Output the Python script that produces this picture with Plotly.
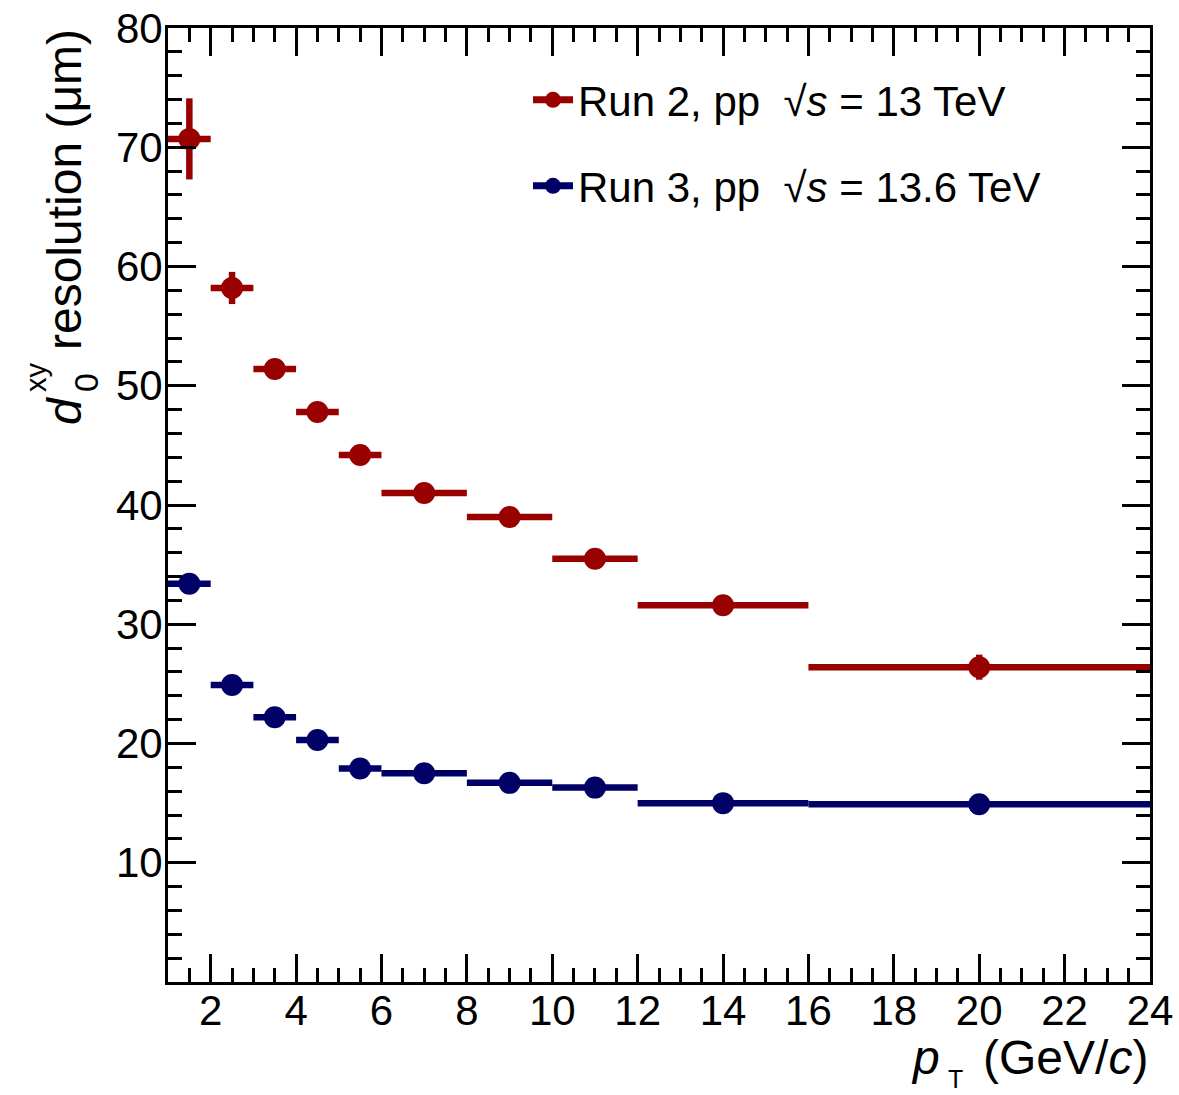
import plotly.graph_objects as go

# pT bin edges (GeV/c) shared by both measurements
bin_edges = [1, 2, 3, 4, 5, 6, 8, 10, 12, 16, 24]

# d0 (xy) resolution in micrometres, per pT bin
run2_res = [70.7, 58.2, 51.4, 47.8, 44.2, 41.0, 39.0, 35.5, 31.6, 26.4]
run2_err = [3.4, 1.35, 0.4, 0.4, 0.4, 0.4, 0.4, 0.5, 0.6, 1.05]
run3_res = [33.4, 24.9, 22.2, 20.3, 17.9, 17.5, 16.7, 16.3, 15.0, 14.9]
run3_err = [0.3, 0.3, 0.3, 0.3, 0.3, 0.3, 0.3, 0.3, 0.3, 0.3]

run2_label = "Run 2, pp  √<i>s</i> = 13 TeV"
run3_label = "Run 3, pp  √<i>s</i> = 13.6 TeV"

x_tick_vals = [2, 4, 6, 8, 10, 12, 14, 16, 18, 20, 22, 24]
y_tick_vals = [0, 10, 20, 30, 40, 50, 60, 70, 80]
y_tick_text = ["", "10", "20", "30", "40", "50", "60", "70", "80"]

RED = "#990000"
BLUE = "#000066"
FONT = "Liberation Sans, Arial, Helvetica, sans-serif"

centers = [(lo + hi) / 2 for lo, hi in zip(bin_edges[:-1], bin_edges[1:])]
half_widths = [(hi - lo) / 2 for lo, hi in zip(bin_edges[:-1], bin_edges[1:])]

fig = go.Figure()


def add_series(values, errors, color, label, legend_id):
    fig.add_trace(go.Scatter(
        x=centers, y=values, mode="markers",
        marker=dict(symbol="circle", size=22, color=color, line=dict(width=0)),
        error_x=dict(type="data", array=half_widths, width=0, thickness=6.5, color=color),
        error_y=dict(type="data", array=errors, width=0, thickness=6.5, color=color),
        showlegend=False, cliponaxis=True,
    ))
    # legend entry: line with marker, like a "lep" entry
    fig.add_trace(go.Scatter(
        x=[None], y=[None], mode="lines+markers", name=label,
        line=dict(color=color, width=7),
        marker=dict(symbol="circle", size=22, color=color),
        legend=legend_id, showlegend=True,
    ))


add_series(run2_res, run2_err, RED, run2_label, "legend")
add_series(run3_res, run3_err, BLUE, run3_label, "legend2")

W, H = 1179, 1095
L, R, T, B = 168, 29, 28, 113
pw, ph = W - L - R, H - T - B


def px(xp):
    return (xp - L) / pw


def py(yp):
    return (H - B - yp) / ph


axis_common = dict(
    showline=True, linecolor="black", linewidth=3, mirror="allticks",
    ticks="inside", ticklen=28, tickwidth=2.5, tickcolor="black",
    showgrid=False, zeroline=False,
    tickfont=dict(family=FONT, size=42, color="black"),
)

fig.update_xaxes(
    range=[1, 24], tickmode="array", tickvals=x_tick_vals,
    ticklabelstandoff=-10,
    minor=dict(tick0=1, dtick=0.5, ticks="inside", ticklen=14, tickwidth=2.5,
               tickcolor="black", showgrid=False),
    **axis_common,
)
fig.update_yaxes(
    range=[0, 80], tickmode="array", tickvals=y_tick_vals, ticktext=y_tick_text,
    ticklabelstandoff=-6,
    minor=dict(tick0=0, dtick=2, ticks="inside", ticklen=14, tickwidth=2.5,
               tickcolor="black", showgrid=False),
    **axis_common,
)

legend_common = dict(
    xanchor="left", yanchor="middle", bgcolor="rgba(0,0,0,0)",
    font=dict(family=FONT, size=42, color="black"), itemwidth=40,
)

annotations = [
    # y-axis title, built from pieces so the sub/superscripts stack
    dict(text="resolution (μm)", x=px(65), y=py(190), textangle=-90,
         font=dict(family=FONT, size=48, color="black")),
    dict(text="<i>d</i>", x=px(65), y=py(411), textangle=-90,
         font=dict(family=FONT, size=48, color="black")),
    dict(text="0", x=px(86), y=py(383), textangle=-90,
         font=dict(family=FONT, size=34, color="black")),
    dict(text="xy", x=px(36), y=py(377), textangle=-90,
         font=dict(family=FONT, size=29, color="black")),
    # x-axis title: p, subscript T, units
    dict(text="(GeV/<i>c</i>)", x=1.0, y=py(1057),
         xanchor="right", yanchor="middle",
         font=dict(family=FONT, size=48, color="black")),
    dict(text="<i>p</i>", x=px(925), y=py(1057),
         font=dict(family=FONT, size=48, color="black")),
    dict(text="T", x=px(955), y=py(1079), borderpad=0,
         font=dict(family=FONT, size=25, color="black")),
]
for a in annotations:
    a.setdefault("xanchor", "center")
    a.setdefault("yanchor", "middle")
    a.update(xref="paper", yref="paper", showarrow=False)

fig.update_layout(
    width=W, height=H,
    margin=dict(l=L, r=R, t=T, b=B, autoexpand=False),
    paper_bgcolor="white", plot_bgcolor="white",
    font=dict(family=FONT, color="black"),
    legend=dict(x=px(528), y=py(100), **legend_common),
    legend2=dict(x=px(528), y=py(186), **legend_common),
    annotations=annotations,
)

fig.write_html("out.html")
